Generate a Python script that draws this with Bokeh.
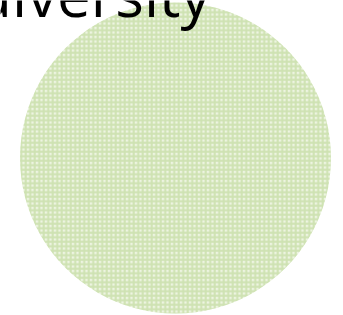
from bokeh.plotting import figure
from bokeh.models import Range1d, ColumnDataSource
from bokeh.core.properties import value
from bokeh.embed import file_html
from bokeh.resources import INLINE
import math

categories = ["diversity"]
values = [100]
title_text = "diversity"

W, H = 343, 315
p = figure(width=W, height=H, output_backend="svg", toolbar_location=None,
           x_range=Range1d(0, W), y_range=Range1d(0, H), min_border=0)
p.axis.visible = False
p.grid.visible = False
p.outline_line_color = None
p.background_fill_color = "white"

total = sum(values)
starts, ends = [], []
acc = 0.0
for v in values:
    starts.append(math.pi / 2 - 2 * math.pi * (acc + v) / total + 1e-4)
    ends.append(math.pi / 2 - 2 * math.pi * acc / total)
    acc += v
src = ColumnDataSource(dict(cat=categories, val=values, start=starts, end=ends))
p.wedge(x=175, y=H - 157.5, radius=155.5, start_angle="start", end_angle="end",
        source=src, fill_color="#edf4e1", line_color=None,
        hatch_pattern="+", hatch_color="#a8cb78", hatch_alpha=0.45,
        hatch_scale=4.5, hatch_weight=2)

p.text(x=[210], y=[H + 7], text=[title_text], text_align="right",
       text_baseline="alphabetic", text_font=value("Open Sans"),
       text_font_size="60px", text_color="black")

open("out.html", "w").write(file_html(p, INLINE))
